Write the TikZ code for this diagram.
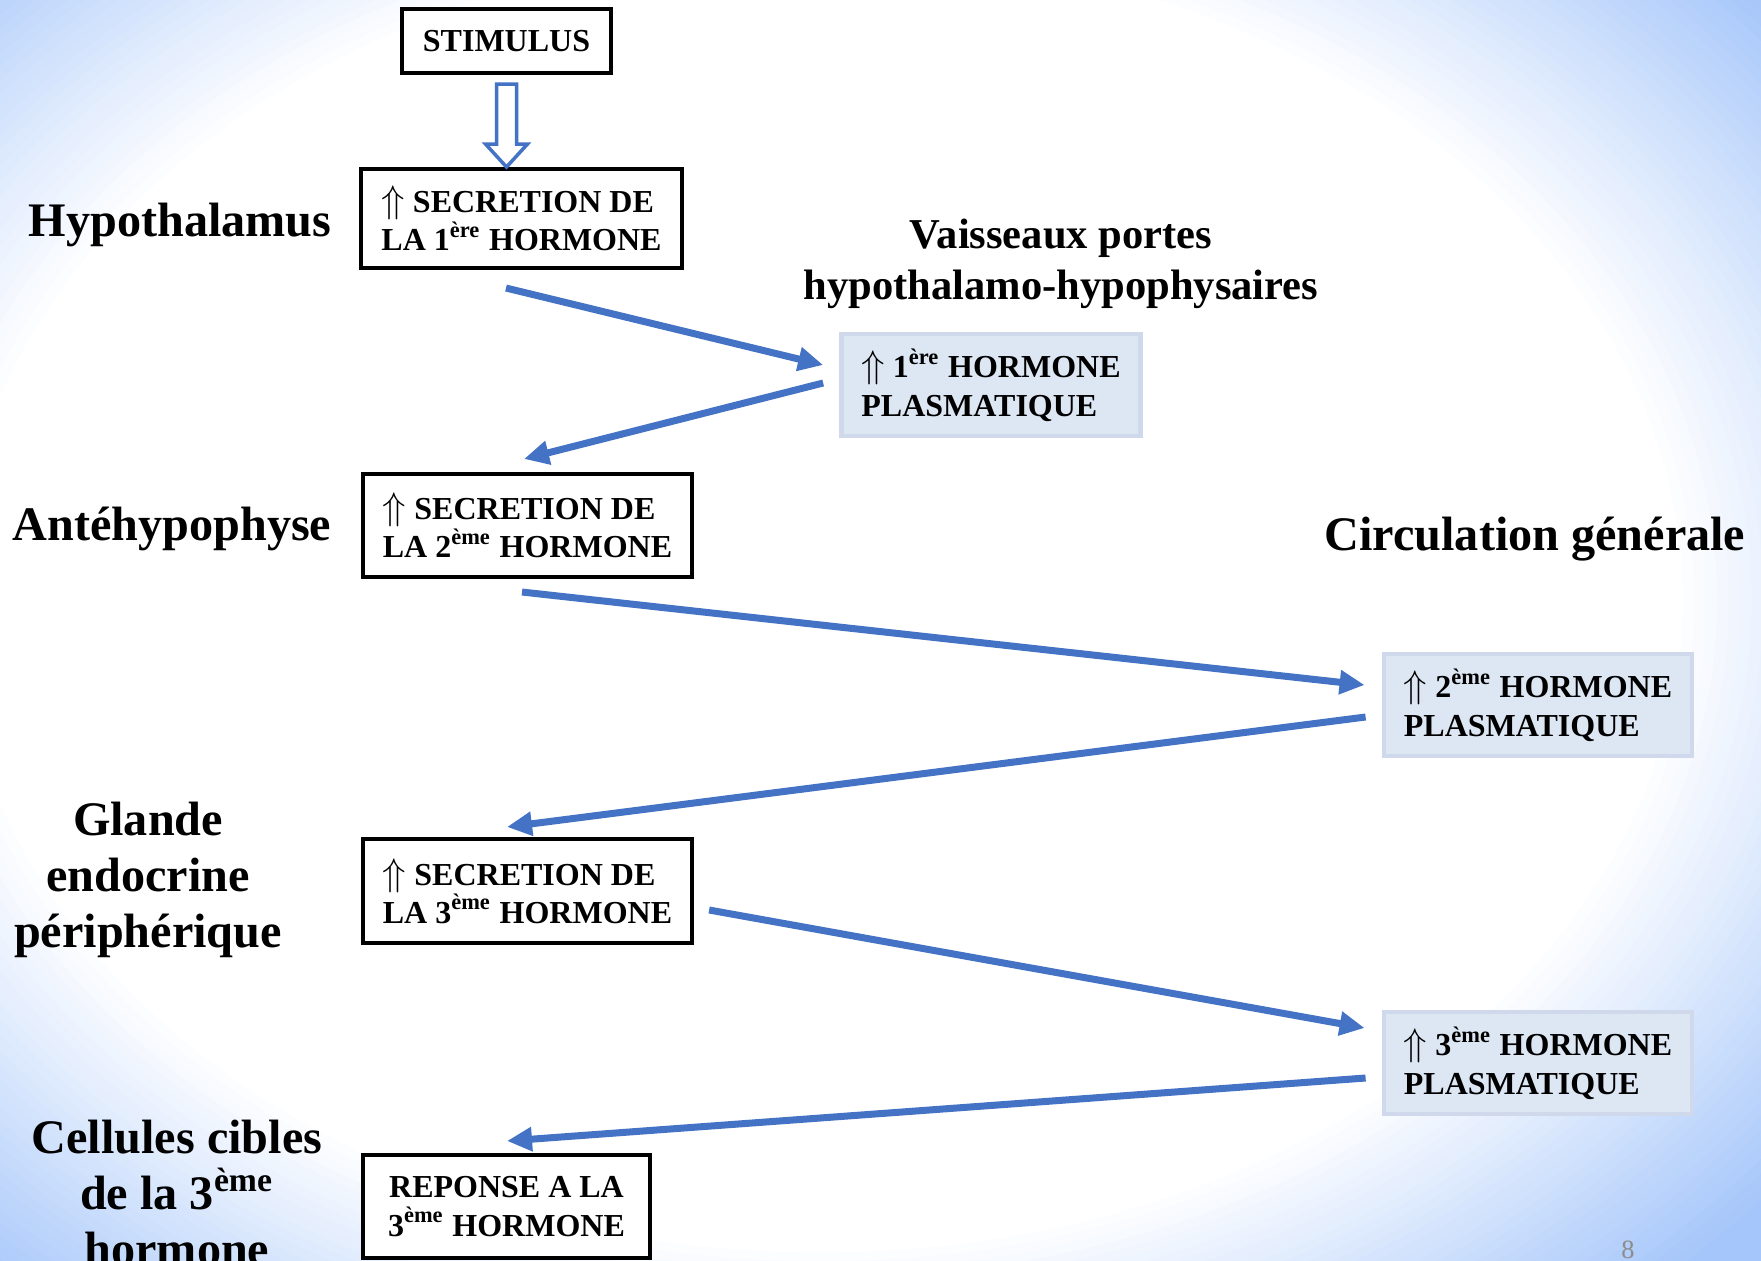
\documentclass[tikz,border=0pt]{standalone}
\usepackage{fontspec}
\setmainfont{Liberation Serif}
\usetikzlibrary{arrows.meta}

\definecolor{flowblue}{RGB}{68,114,196}
\definecolor{plasfill}{RGB}{221,231,244}
\definecolor{plasline}{RGB}{208,216,236}
\definecolor{bgblue}{RGB}{165,198,250}
\definecolor{pagegray}{RGB}{140,140,140}

\newcommand{\hausse}{{\fontsize{11}{11}\selectfont$\Uparrow$}}

\tikzset{
  secbox/.style={draw, line width=0.04cm, fill=white, minimum width=3.29cm, inner xsep=0.2cm,
    minimum height=1.03cm, align=left, font=\bfseries\fontsize{9.1}{10.9}\selectfont},
  plasbox/.style={draw=plasline, fill=plasfill, line width=0.045cm, minimum width=3.055cm, inner xsep=0.2cm,
    minimum height=1.015cm, align=left, font=\bfseries\fontsize{9.1}{10.9}\selectfont},
  organ/.style={align=center, font=\bfseries\fontsize{13.7}{16}\selectfont},
  flow/.style={draw=flowblue, line width=0.07cm, -{Triangle[length=0.25cm, width=0.23cm]}},
  hollow/.style={draw=flowblue, fill=white, line width=0.035cm, line join=miter}
}

\begin{document}
\begin{tikzpicture}[x=0.01cm, y=-0.01cm]
  \useasboundingbox (0,0) rectangle (1761,1261);
  \clip (0,0) rectangle (1761,1261);
  % slide background
  \foreach \k in {0,...,40} {
    \pgfmathsetmacro\rr{1.15-\k*0.01}
    \pgfmathsetmacro\pc{min(100,100*(\rr-0.75)/0.33)}
    \fill[bgblue!\pc!white] (820,600) ellipse ({1150*\rr} and {870*\rr});
  }

  % left column
  \node[secbox, minimum width=2.09cm, minimum height=0.64cm, align=center] (stim) at (506.5,41) {STIMULUS};
  \node[secbox, minimum width=3.19cm, minimum height=0.99cm] (sec1) at (521.5,218.5) {\hausse\ SECRETION DE\\LA 1\textsuperscript{ère} HORMONE};
  \node[secbox] (sec2) at (527.5,525.5) {\hausse\ SECRETION DE\\LA 2\textsuperscript{ème} HORMONE};
  \node[secbox] (sec3) at (527.5,891) {\hausse\ SECRETION DE\\LA 3\textsuperscript{ème} HORMONE};
  \node[secbox, minimum width=2.87cm, align=center] (resp) at (506.5,1206.5) {REPONSE A LA\\3\textsuperscript{ème} HORMONE};

  % plasma levels
  \node[plasbox, minimum width=2.975cm] (pl1) at (991,385) {\hausse\ 1\textsuperscript{ère} HORMONE\\PLASMATIQUE};
  \node[plasbox] (pl2) at (1538,705) {\hausse\ 2\textsuperscript{ème} HORMONE\\PLASMATIQUE};
  \node[plasbox] (pl3) at (1538,1063) {\hausse\ 3\textsuperscript{ème} HORMONE\\PLASMATIQUE};

  % labels
  \node[organ] (hypo) at (180,225) {Hypothalamus};
  \node[organ] (ante) at (172,529) {Antéhypophyse};
  \node[organ] (glande) at (148,880) {Glande\\endocrine\\périphérique};
  \node[organ] (cible) at (177,1193) {Cellules cibles\\de la 3\textsuperscript{ème}\\hormone};
  \node[organ, font=\bfseries\fontsize{12.1}{14.5}\selectfont] (vaiss) at (1061,264) {Vaisseaux portes\\hypothalamo-hypophysaires};
  \node[organ] (circ) at (1535,539) {Circulation générale};
  \node[text=pagegray, font=\fontsize{7.5}{9}\selectfont] (page) at (1628,1250) {8};

  % arrows
  \draw[hollow] ([shift={(-10,9)}]stim.south) -- ++(0,60) -- ++(-11,0) -- ++(21,23) -- ++(21,-23) -- ++(-11,0) -- ++(0,-60) -- cycle;
  \draw[flow] ([shift={(-15.5,18)}]sec1.south) -- ([shift={(-16,-20)}]pl1.west);
  \draw[flow] ([shift={(-16,-2)}]pl1.west) -- ([shift={(-3.5,-13)}]sec2.north);
  \draw[flow] ([shift={(-5.5,13)}]sec2.south) -- ([shift={(-17,-20)}]pl2.west);
  \draw[flow] ([shift={(-16,12)}]pl2.west) -- ([shift={(-20.5,-10.5)}]sec3.north);
  \draw[flow] ([shift={(15,19)}]sec3.east) -- ([shift={(-17,-35)}]pl3.west);
  \draw[flow] ([shift={(-16,15)}]pl3.west) -- ([shift={(0.5,-12)}]resp.north);
\end{tikzpicture}
\end{document}
